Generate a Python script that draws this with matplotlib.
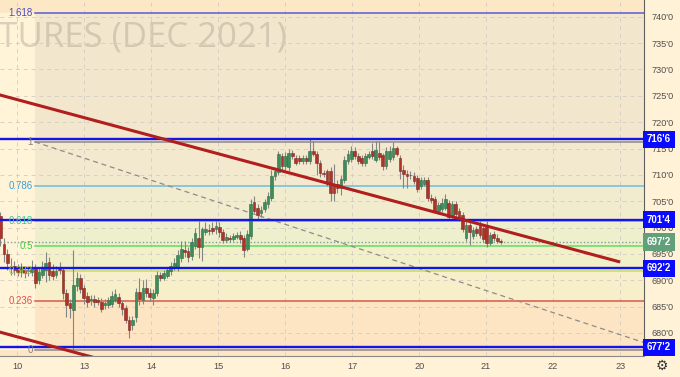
import numpy as np
import matplotlib.pyplot as plt
from matplotlib.transforms import blended_transform_factory

plt.rcParams['font.family'] = ['Liberation Sans', 'DejaVu Sans']

# --- data -------------------------------------------------------------
day_labels = ['10', '13', '14', '15', '16', '17', '20', '21', '22', '23']

# hourly candles, Sep 10 -> Sep 21
opens = [702.2, 696.8, 695.0, 692.8, 692.8, 692.3, 691.5, 692.0, 691.7, 691.5,
         692.5, 690.0, 691.0, 691.9, 693.4, 691.7, 691.0, 692.4, 692.0, 687.5,
         685.7, 684.3, 689.0, 690.4, 688.5, 687.0, 686.2, 686.4, 686.2, 685.8,
         685.4, 685.3, 685.5, 686.2, 686.8, 685.7, 684.8, 682.5, 681.5, 683.0,
         687.7, 686.2, 688.5, 687.6, 686.7, 687.6, 691.0, 690.4, 690.9, 691.7,
         692.5, 692.6, 694.3, 695.8, 695.5, 694.6, 696.5, 698.0, 696.3, 699.1,
         699.5, 700.0, 699.7, 700.1, 699.2, 697.6, 698.0, 697.9, 698.3, 698.6,
         698.0, 696.0, 698.4, 704.8, 703.8, 702.8, 703.5, 704.4, 705.6, 709.8,
         710.6, 713.6, 711.7, 711.4, 714.2, 713.2, 713.2, 712.6, 713.2, 712.6,
         714.5, 714.0, 712.3, 710.4, 710.8, 710.8, 708.3, 708.3, 707.5, 709.0,
         712.6, 713.0, 714.5, 713.6, 713.2, 712.2, 713.4, 714.5, 712.8, 714.2,
         713.8, 711.7, 713.0, 713.3, 715.1, 713.2, 711.0, 710.2, 710.0, 709.8,
         709.4, 707.8, 708.3, 709.0, 705.7, 705.5, 703.2, 703.5, 703.8, 704.7,
         702.2, 704.4, 703.2, 702.3, 698.1, 700.4, 698.4, 699.7, 700.4, 700.0,
         700.4, 697.1, 698.8, 698.1, 697.4]
highs = [703.0, 698.1, 696.0, 694.3, 693.6, 693.0, 693.2, 692.8, 692.6, 693.8,
         693.0, 692.5, 693.6, 695.3, 694.5, 693.0, 692.8, 693.4, 692.5, 688.3,
         686.5, 695.7, 691.5, 691.2, 689.1, 687.8, 687.2, 687.2, 686.8, 686.6,
         686.4, 686.8, 688.0, 688.3, 687.5, 686.2, 685.4, 683.3, 683.3, 688.5,
         690.4, 690.0, 690.2, 688.5, 688.4, 691.8, 691.5, 692.0, 692.5, 693.4,
         694.2, 695.7, 697.5, 697.4, 696.4, 698.0, 700.0, 701.3, 700.2, 701.0,
         700.6, 701.0, 701.2, 701.0, 699.8, 699.0, 698.6, 699.0, 699.1, 699.3,
         698.5, 699.5, 705.5, 706.0, 704.5, 704.0, 705.5, 706.8, 711.0, 711.5,
         714.5, 714.2, 714.3, 715.0, 714.8, 713.8, 713.8, 713.8, 713.8, 716.8,
         716.5, 714.5, 712.8, 711.0, 711.2, 711.5, 712.0, 709.0, 710.0, 713.5,
         714.8, 715.5, 715.2, 714.2, 713.7, 714.2, 714.6, 716.0, 716.5, 716.5,
         714.2, 715.2, 715.4, 716.3, 715.5, 713.8, 711.8, 711.0, 710.8, 710.6,
         710.0, 709.6, 709.6, 709.5, 706.4, 706.0, 704.8, 705.6, 706.3, 705.3,
         705.0, 705.0, 703.8, 703.0, 701.5, 701.0, 700.2, 700.3, 701.3, 700.7,
         701.3, 699.2, 699.3, 698.8, 697.8]
lows = [696.5, 693.4, 691.9, 691.0, 691.0, 690.8, 690.6, 690.5, 690.8, 690.9,
        688.5, 689.2, 690.5, 689.6, 690.0, 690.0, 690.5, 691.2, 686.5, 683.0,
        682.8, 676.8, 688.0, 687.5, 685.5, 685.0, 685.3, 685.0, 685.4, 684.0,
        684.6, 684.8, 685.0, 685.8, 685.0, 683.5, 681.8, 679.0, 680.5, 682.0,
        685.3, 685.5, 686.8, 686.0, 685.3, 687.0, 689.8, 690.0, 690.4, 691.0,
        692.0, 691.8, 693.5, 694.5, 693.5, 693.8, 696.0, 694.3, 693.6, 698.5,
        698.6, 698.7, 698.8, 698.3, 697.0, 697.2, 697.2, 697.5, 697.8, 697.0,
        694.5, 695.5, 697.8, 702.8, 701.5, 702.0, 703.0, 703.8, 705.0, 709.0,
        710.0, 711.0, 711.0, 710.8, 713.0, 711.8, 712.0, 712.0, 712.0, 712.0,
        713.5, 710.0, 709.5, 709.6, 707.8, 705.1, 705.1, 706.5, 706.2, 708.5,
        712.0, 712.5, 713.0, 712.0, 711.7, 711.6, 713.0, 713.0, 712.5, 712.8,
        711.0, 711.2, 712.5, 712.8, 713.5, 709.2, 707.6, 707.5, 709.3, 708.3,
        706.8, 707.3, 707.8, 705.0, 704.6, 702.8, 702.6, 703.0, 703.3, 701.5,
        701.8, 702.0, 701.2, 699.2, 697.5, 696.6, 697.8, 698.4, 698.0, 697.3,
        696.3, 696.6, 697.5, 697.0, 696.9]
closes = [698.0, 694.9, 693.2, 692.3, 691.9, 691.5, 692.3, 691.3, 691.9, 692.5,
          689.5, 691.5, 692.6, 693.2, 691.0, 690.8, 691.7, 691.9, 687.5, 685.3,
          684.7, 689.1, 690.4, 688.3, 686.6, 685.8, 686.5, 685.8, 685.9, 684.6,
          685.6, 686.2, 687.1, 687.4, 685.6, 684.5, 682.5, 680.6, 682.5, 687.7,
          686.5, 688.5, 687.5, 686.8, 687.6, 691.0, 690.4, 691.3, 691.9, 692.8,
          693.2, 694.7, 696.0, 695.3, 694.5, 697.2, 699.0, 696.3, 699.8, 699.8,
          699.3, 699.3, 700.3, 699.2, 697.6, 698.2, 697.9, 698.4, 698.5, 697.8,
          695.8, 698.7, 704.5, 703.2, 702.3, 703.3, 704.8, 705.9, 709.8, 710.8,
          713.9, 711.7, 713.6, 714.2, 713.6, 712.3, 712.6, 713.2, 712.6, 714.5,
          714.0, 712.3, 710.4, 710.2, 708.3, 706.6, 706.6, 707.5, 709.2, 712.8,
          714.0, 714.5, 713.6, 712.6, 712.2, 713.6, 714.0, 713.6, 714.8, 713.3,
          711.7, 714.5, 714.5, 715.1, 714.0, 710.8, 710.2, 709.8, 709.9, 708.9,
          707.3, 709.0, 709.1, 705.6, 705.3, 703.2, 704.2, 704.7, 705.5, 702.0,
          704.4, 702.5, 701.7, 699.8, 700.5, 699.1, 699.5, 699.0, 698.5, 697.9,
          697.1, 698.5, 698.1, 697.5, 697.25]

# fibonacci retracement drawing
fib_start_day = 0.264
fib_low = 676.75
fib_high = 716.25
fib_ratios = [0, 0.236, 0.382, 0.5, 0.618, 0.786, 1, 1.618]
fib_names = ['0', '0.236', '0.382', '0.5', '0.618', '0.786', '1', '1.618']
fib_line_colors = ['#8a8a8a', '#d9574a', '#c4dc6a', '#66d966', '#5fd6a8', '#6cbde0', '#8a8a8a', '#5b5bd6']
fib_text_colors = ['#808080', '#e0504a', '#a8c83c', '#44cc44', '#35c999', '#3a9fd8', '#808080', '#4b4bc8']
fib_fills = ['#fde4c3', '#f7efca', '#f1f0c9', '#eef0cd', '#f1ecce', '#f3e9cf', '#f2e6cc']

# horizontal levels (blue) and last price
levels = [716.75, 701.5, 692.25, 677.25]
level_tags = ["716'6", "701'4", "692'2", "677'2"]
last_price = 697.25
last_tag = "697'2"

# trend lines (day, price)
trend_upper = [(-0.3, 725.3), (9.0, 693.47)]
trend_lower = [(-0.3, 680.3), (2.0, 672.4)]
fib_diag = [(0.264, 716.25), (9.70, 676.75)]

price_ticks = list(range(680, 745, 5))

# --- figure -----------------------------------------------------------
bg = '#fff3d8'
fig = plt.figure(figsize=(6.8, 3.77), dpi=100, facecolor='#fff2d6')
ax = fig.add_axes([0, 21 / 377, 644.3 / 680, 356 / 377])
ax.set_facecolor(bg)

x_lo, x_hi = -0.258, 9.362
y_lo, y_hi = 675.63, 743.18
ax.set_xlim(x_lo, x_hi)
ax.set_ylim(y_lo, y_hi)

# bands above 1.618 and below 0
fib_prices = [fib_low + r * (fib_high - fib_low) for r in fib_ratios]
ax.fill_between([x_lo, x_hi], fib_prices[-1], y_hi, color='#fde8c5', lw=0, zorder=0.1)
ax.fill_between([x_lo, x_hi], y_lo, fib_low, color='#fde6c6', lw=0, zorder=0.1)

# fib zones, lines and labels
for i in range(len(fib_prices) - 1):
    ax.fill_between([fib_start_day, x_hi], fib_prices[i], fib_prices[i + 1],
                    color=fib_fills[i], lw=0, zorder=0.2)
for p, name, lc, tc in zip(fib_prices, fib_names, fib_line_colors, fib_text_colors):
    ax.plot([fib_start_day, x_hi], [p, p], color=lc, lw=1.1, zorder=2)
    ax.text(fib_start_day - 0.03, p, name, ha='right', va='center',
            fontsize=7, color=tc, zorder=6)

# watermark (cut by the left edge, as on the screen)
ax.text(287 / 644.3, 1 - 47 / 356, 'WHEAT FUTURES (DEC 2021)', transform=ax.transAxes,
        ha='right', va='baseline', fontsize=25, family=['Open Sans', 'DejaVu Sans'],
        color='#948c80', alpha=0.33, zorder=0.3, clip_on=True)

# grid
ax.set_axisbelow(True)
ax.grid(True, color='#d6d0c6', linestyle=(0, (4, 4)), lw=0.7)

# fib diagonal
ax.plot([fib_diag[0][0], fib_diag[1][0]], [fib_diag[0][1], fib_diag[1][1]],
        color='#8c8c8c', lw=0.9, linestyle=(0, (4, 3)), zorder=2)

# last price dotted line
ax.axhline(last_price, color='#7aa58a', lw=1, linestyle=(0, (1, 1.5)), zorder=2)

# candles
n = len(closes)
o = np.array(opens)
h = np.array(highs)
l = np.array(lows)
c = np.array(closes)
step = 3.474 / 66.97
xs = -0.2509 + np.arange(n) * step
up = c >= o
ax.vlines(xs, l, h, color='#858585', lw=0.8, zorder=3)
body_col = np.where(up, '#3e8c5b', '#ad342b')
edge_col = np.where(up, '#2f6e46', '#7f2a22')
ax.bar(xs, np.maximum(np.abs(c - o), 0.15), bottom=np.minimum(o, c), width=0.041,
       color=body_col, edgecolor=edge_col, linewidth=0.4, zorder=4)

# blue levels
for p in levels:
    ax.axhline(p, color='#1414e6', lw=1.7, zorder=5)

# red trend lines
for ln in (trend_upper, trend_lower):
    ax.plot([ln[0][0], ln[1][0]], [ln[0][1], ln[1][1]], color='#b01e1e', lw=2.2,
            zorder=6, solid_capstyle='butt')

# axes cosmetics
for s in ('top', 'left'):
    ax.spines[s].set_visible(False)
ax.spines['right'].set_color('#606060')
ax.spines['bottom'].set_color('#8a8a8a')
ax.yaxis.tick_right()
ax.set_yticks(price_ticks)
ax.set_yticklabels([f"{v}'0" for v in price_ticks])
ax.set_xticks(range(len(day_labels)))
ax.set_xticklabels(day_labels)
ax.tick_params(axis='y', length=0, pad=5.5, labelsize=6.6, labelcolor='#4f4f4f')
ax.tick_params(axis='x', length=0, pad=4.5, labelsize=6.6, labelcolor='#4f4f4f')

# price tags on the right axis
tr = blended_transform_factory(ax.transAxes, ax.transData)
for p, t in zip(levels, level_tags):
    ax.text(1.004, p, t, transform=tr, ha='left', va='center', fontsize=7,
            fontweight='bold', color='white', clip_on=False, zorder=10,
            bbox=dict(boxstyle='square,pad=0.38', fc='#0a0aff', ec='none'))
ax.text(1.004, last_price, last_tag, transform=tr, ha='left', va='center', fontsize=7,
        fontweight='bold', color='white', clip_on=False, zorder=10,
        bbox=dict(boxstyle='square,pad=0.38', fc='#62a07c', ec='none'))

# settings gear
fig.text(662 / 680, 1 - 366 / 377, '\u2699', ha='center', va='center', fontsize=10,
         color='#333333', family='DejaVu Sans')

fig.savefig('out.png', dpi=100, facecolor=fig.get_facecolor())
